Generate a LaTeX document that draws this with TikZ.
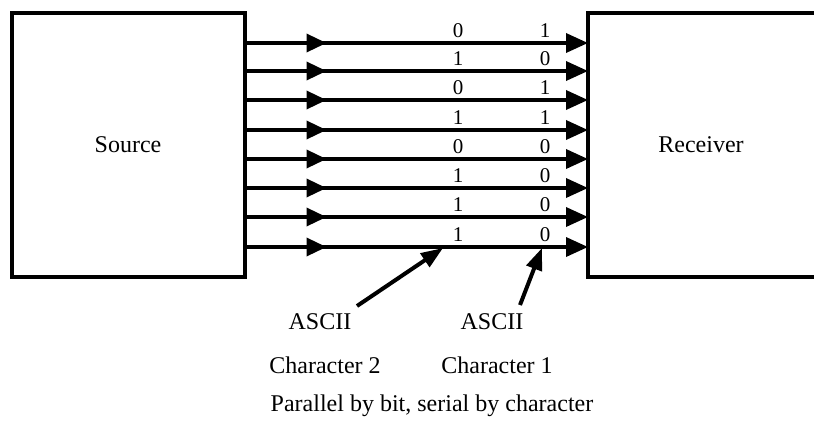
\documentclass[tikz,border=0pt]{standalone}
\usepackage{fontspec}
\setmainfont{Liberation Serif}
\usepackage{tikz}
\usetikzlibrary{arrows.meta,positioning,decorations.markings}

\begin{document}
\begin{tikzpicture}[
  x=1pt, y=-1pt, >={Triangle[length=22pt,width=19pt]},
  font=\fontsize{24}{28}\selectfont,
  block/.style={draw=black, line width=4pt, minimum width=233pt, minimum height=264pt, outer sep=0pt, inner sep=0pt},
  openblock/.style={minimum width=226pt, minimum height=264pt, outer sep=0pt, inner sep=0pt},
  wire/.style={->, line width=3.5pt, postaction={decorate},
    decoration={markings, mark=at position 82pt with {\arrow{Triangle[length=20pt,width=18pt]}}}},
  bit/.style={font=\fontsize{21}{24}\selectfont, inner sep=0pt},
  pointer/.style={-{Triangle[length=22pt,width=16pt]}, line width=4pt},
  label/.style={inner sep=0pt}
]
\useasboundingbox (0,0) rectangle (814,421);

\node[block] (src) at (128,145) {Source};
\node[openblock] (rcv) at (701,145) {Receiver};
\draw[line width=4pt] (rcv.north east) -- (rcv.north west) -- (rcv.south west) -- (rcv.south east);

% eight parallel lines
\draw[wire] (src.east |- 0,43) -- (rcv.west |- 0,43);
\draw[wire] (src.east |- 0,71) -- (rcv.west |- 0,71);
\draw[wire] (src.east |- 0,100) -- (rcv.west |- 0,100);
\draw[wire] (src.east |- 0,130) -- (rcv.west |- 0,130);
\draw[wire] (src.east |- 0,159) -- (rcv.west |- 0,159);
\draw[wire] (src.east |- 0,188) -- (rcv.west |- 0,188);
\draw[wire] (src.east |- 0,217) -- (rcv.west |- 0,217);
\draw[wire] (src.east |- 0,247) -- (rcv.west |- 0,247);

% character 2 bits
\node[bit] (a1) at (458,31) {0};
\node[bit] (a2) at (458,59) {1};
\node[bit] (a3) at (458,88) {0};
\node[bit] (a4) at (458,118) {1};
\node[bit] (a5) at (458,147) {0};
\node[bit] (a6) at (458,176) {1};
\node[bit] (a7) at (458,205) {1};
\node[bit] (a8) at (458,235) {1};

% character 1 bits
\node[bit] (b1) at (545,31) {1};
\node[bit] (b2) at (545,59) {0};
\node[bit] (b3) at (545,88) {1};
\node[bit] (b4) at (545,118) {1};
\node[bit] (b5) at (545,147) {0};
\node[bit] (b6) at (545,176) {0};
\node[bit] (b7) at (545,205) {0};
\node[bit] (b8) at (545,235) {0};

\node[label] (ascii2) at (320,322) {ASCII};
\node[label] (ascii1) at (492,322) {ASCII};
\node[label] (char2) at (325,365) {Character 2};
\node[label] (char1) at (497,365) {Character 1};
\node[label] (caption) at (432,406) {Parallel by bit, serial by character};

\coordinate (from2) at (357,306);
\coordinate (tip2) at (443,248);
\coordinate (from1) at (520,305);
\coordinate (tip1) at (542,248);
\draw[pointer] (from2) -- (tip2);
\draw[pointer] (from1) -- (tip1);

\end{tikzpicture}
\end{document}
